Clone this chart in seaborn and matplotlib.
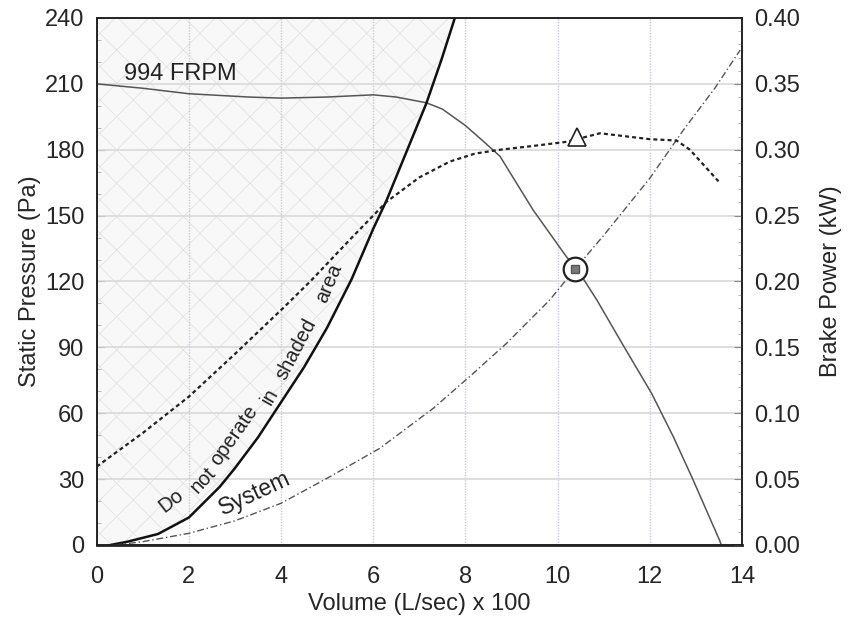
import numpy as np
import pandas as pd
import seaborn as sns
import matplotlib
matplotlib.use('Agg')
import matplotlib.pyplot as plt
from matplotlib.ticker import MultipleLocator, AutoMinorLocator

# fan curve, 994 FRPM (static pressure, Pa)
fan_x = [0, 1, 2, 3.3, 4, 5, 6, 6.5, 7.15, 7.5, 8.0, 8.38, 8.75, 9.47, 10.19, 10.42,
         10.85, 11.42, 12.04, 12.51, 12.94, 13.51, 13.55]
fan_p = [210, 208, 205.5, 204, 203.5, 204, 205, 204, 201.4, 198.5, 191, 184, 177, 152.5, 131.3, 125.7,
         111.6, 91, 69, 49.3, 29.6, 2.3, 0]

# stall line (left edge of safe region)
stall_x = [0.3, 0.67, 1.33, 2.0, 2.67, 3.0, 3.5, 4.0, 4.5, 5.0, 5.53, 6.0, 6.29, 6.72, 7.15, 7.48, 7.77]
stall_p = [0, 1.5, 5, 12.5, 26.5, 35, 49, 65, 81, 99, 121, 144, 157, 179, 201, 221, 240]

# brake power (kW, right axis)
bp_x = [0, 1, 2, 3, 4.05, 4.66, 5.5, 6.29, 7.0, 7.66, 8.2, 8.75, 9.5, 10.19, 10.92, 12.0, 12.58, 12.87, 13.49]
bp_kw = [0.0595, 0.085, 0.1126, 0.145, 0.18, 0.201, 0.232, 0.2605, 0.279, 0.291, 0.297, 0.300,
         0.303, 0.306, 0.3125, 0.308, 0.307, 0.300, 0.276]

# system curve (Pa)
sys_x = [0.4, 1, 2, 3, 4, 5, 6.14, 7.3, 8.13, 8.89, 9.83, 10.38, 11, 12, 12.73, 13.41, 13.96]
sys_p = [0, 1.5, 5.3, 11, 19, 30.4, 44, 62.2, 77.4, 91.8, 111.6, 125.7, 141, 167, 189, 208, 225.4]

op_point = (10.38, 125.7)
bp_point = (10.41, 0.31)

words = ['Do', 'not', 'operate', 'in', 'shaded', 'area']
word_x = [1.62, 2.31, 2.98, 3.75, 4.33, 5.04]
word_y = [20, 29.5, 50, 67.5, 89, 119]
word_rot = [38, 47, 55, 60, 62, 67]

sns.set_style('white')
plt.rcParams['font.family'] = ['Liberation Sans', 'DejaVu Sans']
plt.rcParams['hatch.linewidth'] = 0.6

fig = plt.figure(figsize=(8.48, 6.2), dpi=100)
ax = fig.add_axes([0.114, 0.121, 0.761, 0.85])
ax2 = ax.twinx()

# shaded (do not operate) region
ax.fill_betweenx(stall_p, [0] * len(stall_p), stall_x, facecolor='#f8f8f8',
                 edgecolor='#e3e3e3', hatch='x', linewidth=0, zorder=0)

# grid
for gx in range(2, 14, 2):
    ax.axvline(gx, color='#c9c9dd', lw=1.0, ls=(0, (1, 1)), zorder=1)
for gy in range(30, 240, 30):
    ax.axhline(gy, color='#d9d9d9', lw=1.2, zorder=1)

sns.lineplot(x=fan_x, y=fan_p, ax=ax, color='#555555', lw=1.1, sort=False, zorder=3)
sns.lineplot(x=stall_x, y=stall_p, ax=ax, color='#111111', lw=1.8, sort=False, zorder=3)
sns.lineplot(x=sys_x, y=sys_p, ax=ax, color='#555555', lw=1.0, sort=False,
             linestyle=(0, (5, 2, 1, 2)), zorder=3)
sns.lineplot(x=bp_x, y=bp_kw, ax=ax2, color='#222222', lw=1.6, sort=False,
             linestyle=(0, (1.8, 1.4)), zorder=3)

ax.plot(*op_point, marker='o', ms=17, mfc='white', mec='#222222', mew=1.6, zorder=5)
ax.plot(*op_point, marker='s', ms=5.5, mfc='#777777', mec='#555555', zorder=6)
ax2.plot(*bp_point, marker='^', ms=13, mfc='white', mec='#222222', mew=1.2, zorder=5)

ax.set_xlim(0, 14)
ax.set_ylim(0, 240)
ax2.set_ylim(0, 0.40)
ax.xaxis.set_major_locator(MultipleLocator(2))
ax.xaxis.set_minor_locator(AutoMinorLocator(4))
ax.yaxis.set_major_locator(MultipleLocator(30))
ax.yaxis.set_minor_locator(AutoMinorLocator(3))
ax2.yaxis.set_major_locator(MultipleLocator(0.05))
ax2.yaxis.set_minor_locator(AutoMinorLocator(5))
ax2.set_yticklabels(['%.2f' % v for v in ax2.get_yticks()])

ax.tick_params(axis='both', which='major', direction='in', length=6, width=0.8,
               labelsize=17, color='#888888')
ax.tick_params(axis='x', which='major', pad=15)
ax.tick_params(axis='y', which='major', pad=9)
ax.tick_params(axis='both', which='minor', direction='in', length=3, width=0.6, color='#aaaaaa')
ax2.tick_params(axis='y', which='major', direction='in', length=6, width=0.8,
                labelsize=17, color='#888888', pad=9)
ax2.tick_params(axis='y', which='minor', direction='in', length=3, width=0.6, color='#aaaaaa')

for a in (ax, ax2):
    for s in a.spines.values():
        s.set_color('#222222')
        s.set_linewidth(1.2)
ax.spines['bottom'].set_linewidth(2.0)

ax.set_xlabel('Volume (L/sec) x 100', fontsize=17, labelpad=4)
ax.set_ylabel('Static Pressure (Pa)', fontsize=17, labelpad=3)
ax2.set_ylabel('Brake Power (kW)', fontsize=17, labelpad=14)

ax.text(0.6, 209.5, '994 FRPM', fontsize=17, color='#222222', ha='left', va='bottom', zorder=6)
ax.text(3.43, 23.5, 'System', fontsize=16.5, color='#222222', rotation=25,
        ha='center', va='center', zorder=6)

for w, wx, wy, wr in zip(words, word_x, word_y, word_rot):
    ax.text(wx, wy, w, fontsize=14.5, color='#222222', rotation=wr,
            ha='center', va='center', rotation_mode='anchor', zorder=6)

fig.savefig('out.png', dpi=100)
